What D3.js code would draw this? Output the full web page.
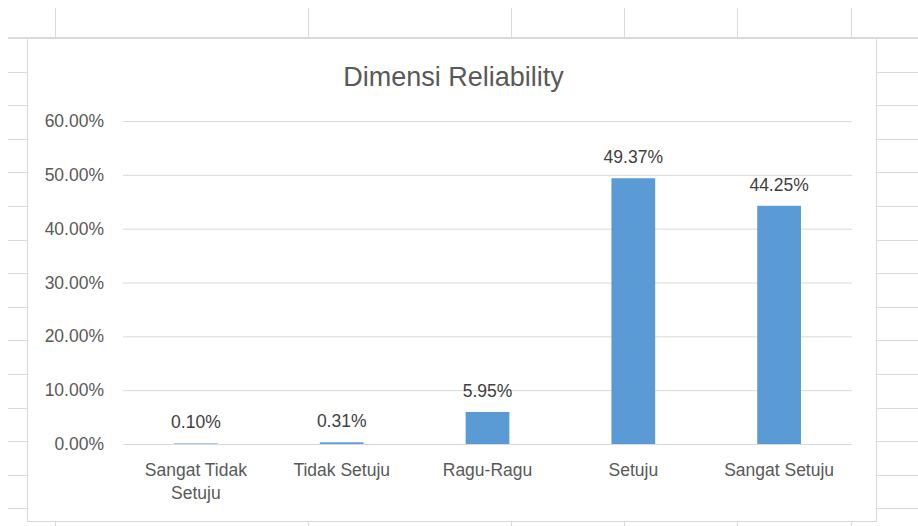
<!DOCTYPE html>
<html>
<head>
<meta charset="utf-8">
<script src="https://cdn.jsdelivr.net/npm/d3@7"></script>
<style>
  html, body { margin: 0; padding: 0; background: #ffffff; }
  svg { display: block; }
  text { font-family: "Liberation Sans", Arial, sans-serif; }
</style>
</head>
<body>
<svg id="chart" width="918" height="526"></svg>
<script>
const title = "Dimensi Reliability";
const categories = ["Sangat Tidak Setuju", "Tidak Setuju", "Ragu-Ragu", "Setuju", "Sangat Setuju"];
const values = [0.10, 0.31, 5.95, 49.37, 44.25];
const yTicks = [0, 10, 20, 30, 40, 50, 60];

// layout
const W = 918, H = 526;
const box = { left: 27, top: 38, right: 876, bottom: 521 };
const plot = { left: 123, right: 852, top: 121, bottom: 444 };
const sheetCols = [55, 308, 511, 624, 737, 851];
const rowStart = 38, rowStep = 33.6;

const svg = d3.select("#chart");
const gridColor = "#dadada";

// spreadsheet background grid
const sheet = svg.append("g");
sheet.selectAll("line.vc").data(sheetCols).enter().append("line")
  .attr("x1", d => d + 0.5).attr("x2", d => d + 0.5)
  .attr("y1", 8).attr("y2", box.top)
  .attr("stroke", gridColor);
sheet.selectAll("line.vb").data(sheetCols).enter().append("line")
  .attr("x1", d => d + 0.5).attr("x2", d => d + 0.5)
  .attr("y1", box.bottom).attr("y2", H)
  .attr("stroke", gridColor);
const rows = d3.range(rowStart, H, rowStep).map(Math.round);
sheet.selectAll("line.hl").data(rows).enter().append("line")
  .attr("x1", 8).attr("x2", box.left)
  .attr("y1", d => d + 0.5).attr("y2", d => d + 0.5)
  .attr("stroke", gridColor);
sheet.selectAll("line.hr").data(rows).enter().append("line")
  .attr("x1", box.right).attr("x2", W)
  .attr("y1", d => d + 0.5).attr("y2", d => d + 0.5)
  .attr("stroke", gridColor);
sheet.append("line").attr("x1", 8).attr("x2", W)
  .attr("y1", box.top - 0.5).attr("y2", box.top - 0.5).attr("stroke", gridColor);

// chart box
svg.append("rect")
  .attr("x", box.left + 0.5).attr("y", box.top + 0.5)
  .attr("width", box.right - box.left).attr("height", box.bottom - box.top)
  .attr("fill", "#ffffff").attr("stroke", "#d9d9d9");

// title
svg.append("text")
  .attr("x", (box.left + box.right) / 2 + 2).attr("y", 86)
  .attr("text-anchor", "middle")
  .attr("font-size", 27).attr("fill", "#595959")
  .text(title);

// scales
const x = d3.scaleBand().domain(categories).range([plot.left, plot.right]).padding(0);
const y = d3.scaleLinear().domain([0, 60]).range([plot.bottom, plot.top]);
const barW = x.bandwidth() * 0.30;

// y axis (gridlines + labels)
const yAxis = d3.axisLeft(y).tickValues(yTicks)
  .tickSize(-(plot.right - plot.left))
  .tickPadding(19)
  .tickFormat(d => d.toFixed(2) + "%");
const gy = svg.append("g").attr("transform", `translate(${plot.left},0)`).call(yAxis);
gy.select(".domain").remove();
gy.selectAll(".tick line").attr("stroke", "#d9d9d9");
gy.selectAll(".tick text").attr("font-size", 17.5).attr("fill", "#595959")
  .attr("font-family", "Liberation Sans, Arial, sans-serif");

// bars
svg.append("g").selectAll("rect").data(values).enter().append("rect")
  .attr("x", (d, i) => x(categories[i]) + x.bandwidth() / 2 - barW / 2)
  .attr("width", barW)
  .attr("y", d => y(d))
  .attr("height", d => y(0) - y(d))
  .attr("fill", "#5b9bd5");

// value labels
svg.append("g").selectAll("text").data(values).enter().append("text")
  .attr("x", (d, i) => x(categories[i]) + x.bandwidth() / 2)
  .attr("y", d => y(d) - 15)
  .attr("text-anchor", "middle")
  .attr("font-size", 17.5).attr("fill", "#404040")
  .text(d => d.toFixed(2) + "%");

// x axis labels (wrapped)
const xAxis = d3.axisBottom(x).tickSize(0).tickPadding(0);
const gx = svg.append("g").attr("transform", `translate(0,${plot.bottom})`).call(xAxis);
gx.select(".domain").remove();
gx.selectAll(".tick text")
  .attr("font-size", 17.5).attr("fill", "#595959")
  .attr("font-family", "Liberation Sans, Arial, sans-serif")
  .attr("dy", null).attr("y", null)
  .each(function(d) {
    const t = d3.select(this);
    const words = d.split(" ");
    t.text(null);
    const maxW = x.bandwidth() * 0.9;
    let line = [], lines = [];
    let probe = t.append("tspan");
    words.forEach(w => {
      line.push(w);
      probe.text(line.join(" "));
      if (probe.node().getComputedTextLength() > maxW && line.length > 1) {
        line.pop();
        lines.push(line.join(" "));
        line = [w];
      }
    });
    lines.push(line.join(" "));
    probe.remove();
    lines.forEach((l, i) => {
      t.append("tspan").attr("x", 0).attr("y", 32 + i * 23).text(l);
    });
  });
</script>
</body>
</html>
